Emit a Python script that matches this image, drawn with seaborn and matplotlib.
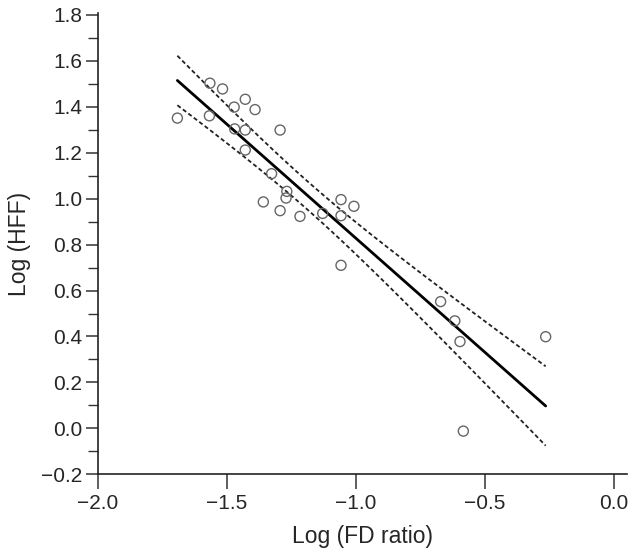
import numpy as np
import pandas as pd
import seaborn as sns
import matplotlib.pyplot as plt
from matplotlib.ticker import MultipleLocator, FuncFormatter

# Data
log_fd_ratio = [-1.691, -1.565, -1.516, -1.567, -1.471, -1.428, -1.390, -1.469, -1.428,
                -1.293, -1.428, -1.326, -1.267, -1.270, -1.358, -1.293, -1.216, -1.128,
                -1.057, -1.007, -1.057, -1.057, -0.671, -0.616, -0.596, -0.264, -0.583]
log_hff = [1.351, 1.503, 1.478, 1.361, 1.399, 1.433, 1.388, 1.304, 1.299,
           1.299, 1.212, 1.109, 1.032, 1.003, 0.986, 0.948, 0.923, 0.936,
           0.996, 0.967, 0.926, 0.710, 0.552, 0.468, 0.378, 0.399, -0.012]

df = pd.DataFrame({'x': log_fd_ratio, 'y': log_hff})

# Least squares fit and 95% confidence band of the mean
x = np.array(log_fd_ratio)
y = np.array(log_hff)
n = len(x)
slope, intercept = np.polyfit(x, y, 1)
resid = y - (slope * x + intercept)
s = np.sqrt(np.sum(resid ** 2) / (n - 2))
sxx = np.sum((x - x.mean()) ** 2)
t = 2.06  # t(0.975, df=25)
xs = np.linspace(x.min(), x.max(), 100)
fit = slope * xs + intercept
hw = t * s * np.sqrt(1 / n + (xs - x.mean()) ** 2 / sxx)
band = pd.DataFrame({'x': xs, 'fit': fit, 'upper': fit + hw, 'lower': fit - hw})

sns.set_style('ticks')
plt.rcParams['font.family'] = ['Liberation Sans', 'DejaVu Sans']
plt.rcParams['axes.unicode_minus'] = True

fig = plt.figure(figsize=(6.34, 5.57), dpi=100)
ax = fig.add_axes([0.154, 0.1485, 0.8345, 0.8287])

sns.lineplot(x='x', y='upper', data=band, ax=ax, color='#222222', lw=1.3, linestyle=(0, (2.3, 1.5)))
sns.lineplot(x='x', y='lower', data=band, ax=ax, color='#222222', lw=1.3, linestyle=(0, (2.3, 1.5)))
sns.lineplot(x='x', y='fit', data=band, ax=ax, color='black', lw=2.0)
sns.scatterplot(x='x', y='y', data=df, ax=ax, s=52, marker='o', facecolor='none',
                edgecolor='#666666', linewidth=1.0, zorder=3)

# one decimal, real minus sign
fmt = FuncFormatter(lambda v, p: f'{v:.1f}'.replace('-', '\u2212'))

ax.set_xlim(-2.0, 0.05)
ax.set_ylim(-0.2, 1.81)
ax.xaxis.set_major_locator(MultipleLocator(0.5))
ax.yaxis.set_major_locator(MultipleLocator(0.2))
ax.yaxis.set_minor_locator(MultipleLocator(0.1))
ax.xaxis.set_major_formatter(fmt)
ax.yaxis.set_major_formatter(fmt)
ax.tick_params(axis='x', which='major', length=11, width=1.1, labelsize=15, pad=3, color='#333333')
ax.tick_params(axis='y', which='major', length=9, width=1.1, labelsize=15, pad=2, color='#333333')
ax.tick_params(axis='y', which='minor', length=7, width=1.0, color='#333333')
for side in ['top', 'right']:
    ax.spines[side].set_visible(False)
for side in ['left', 'bottom']:
    ax.spines[side].set_linewidth(1.2)
    ax.spines[side].set_color('#222222')

ax.set_xlabel('Log (FD ratio)', fontsize=16.5, labelpad=9)
ax.set_ylabel('Log (HFF)', fontsize=16.5, labelpad=7)

plt.savefig('out.png', dpi=100)
